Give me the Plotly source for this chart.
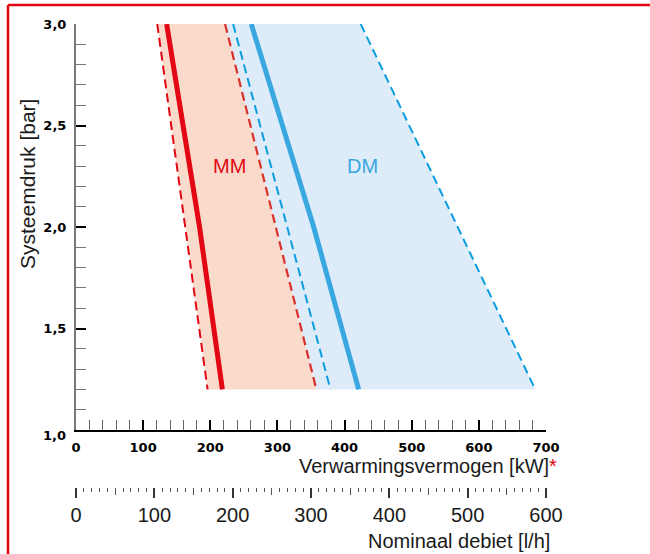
import plotly.graph_objects as go

# ---- data ----
p_range = [3.0, 1.2]            # system pressure [bar] (ends of band lines)
p_nom = [3.0, 2.0, 1.2]         # pressure points for nominal lines
mm_min = [121, 196]
mm_nom = [135, 184, 218]
mm_max = [222, 358]
dm_min = [234, 379]
dm_nom = [261, 354, 421]
dm_max = [424, 684]

y_ticks = [1.0, 1.5, 2.0, 2.5, 3.0]
y_ticktext = ["", "1,5", "2,0", "2,5", "3,0"]
x_ticks = [0, 100, 200, 300, 400, 500, 600, 700]
flow_ticks = [0, 100, 200, 300, 400, 500, 600]
flow_mid_ticks = [50, 150, 250, 350, 450, 550]

RED = "#e30613"
RED2 = "#d9302c"
BLUE = "#3aa8e0"
BLUE_D = "#0a9ee0"
MM_FILL = "#f9dacb"
DM_FILL = "#deebf8"

# pixel helpers for paper coordinates
L, R, T, B = 70, 550, 24, 500
def px(x):
    return (x - L) / (R - L)
def py(y):
    return (B - y) / (B - T)

fig = go.Figure()

# fills
fig.add_trace(go.Scatter(x=mm_max + dm_max[::-1], y=p_range + p_range[::-1],
                         fill="toself", fillcolor=DM_FILL, line=dict(width=0),
                         mode="lines", hoverinfo="skip", showlegend=False))
fig.add_trace(go.Scatter(x=mm_min + mm_max[::-1], y=p_range + p_range[::-1],
                         fill="toself", fillcolor=MM_FILL, line=dict(width=0),
                         mode="lines", hoverinfo="skip", showlegend=False))

# lines
fig.add_trace(go.Scatter(x=mm_min, y=p_range, mode="lines",
                         line=dict(color=RED, width=2, dash="9px,5px"), showlegend=False))
fig.add_trace(go.Scatter(x=mm_max, y=p_range, mode="lines",
                         line=dict(color=RED2, width=2.2, dash="9px,5px"), showlegend=False))
fig.add_trace(go.Scatter(x=dm_min, y=p_range, mode="lines",
                         line=dict(color=BLUE_D, width=2, dash="9px,5px"), showlegend=False))
fig.add_trace(go.Scatter(x=dm_max, y=p_range, mode="lines",
                         line=dict(color=BLUE_D, width=2, dash="9px,5px"), showlegend=False))
fig.add_trace(go.Scatter(x=mm_nom, y=p_nom, mode="lines",
                         line=dict(color=RED, width=5), showlegend=False))
fig.add_trace(go.Scatter(x=dm_nom, y=p_nom, mode="lines",
                         line=dict(color=BLUE, width=5), showlegend=False))

# dummy traces so secondary axes are drawn
fig.add_trace(go.Scatter(x=[0, 600], y=[1, 1], xaxis="x2", yaxis="y", mode="markers",
                         marker=dict(opacity=0), hoverinfo="skip", showlegend=False))
fig.add_trace(go.Scatter(x=[0, 600], y=[1, 1], xaxis="x3", yaxis="y", mode="markers",
                         marker=dict(opacity=0), hoverinfo="skip", showlegend=False))

TICKFONT_B = dict(family="DejaVu Sans", size=13, color="black", weight="bold")
LABFONT = dict(family="Liberation Sans, Arial", size=20, color="#1a1a1a")

fig.update_layout(
    width=650, height=554,
    margin=dict(l=L, r=650 - R, t=T, b=554 - B, autoexpand=False),
    plot_bgcolor="white", paper_bgcolor="white",
    separators=",.",
    xaxis=dict(domain=[px(76), px(546)], range=[0, 700], tickvals=x_ticks,
               ticks="inside", ticklen=10, tickwidth=1.5, tickcolor="black",
               showline=True, linecolor="black", linewidth=2,
               showgrid=False, zeroline=False, tickfont=TICKFONT_B, automargin=False,
               minor=dict(dtick=20, ticks="inside", ticklen=10, tickcolor="#666", tickwidth=1),
               anchor="y", ticklabelstandoff=4),
    yaxis=dict(domain=[py(430), 1], range=[1, 3], tickvals=y_ticks, ticktext=y_ticktext,
               ticks="inside", ticklen=10, tickwidth=2, tickcolor="black",
               showline=True, linecolor="#777", linewidth=2, automargin=False,
               showgrid=False, zeroline=False, tickfont=TICKFONT_B,
               minor=dict(dtick=0.1, ticks="inside", ticklen=10, tickcolor="#777", tickwidth=1.2),
               anchor="x", ticklabelstandoff=5),
    xaxis2=dict(overlaying="x", anchor="free", position=py(487), side="bottom",
                domain=[px(74), px(545.3)], range=[0, 600], tickvals=flow_ticks,
                ticks="outside", ticklen=10, tickwidth=1.5, tickcolor="#333",
                showline=False, showgrid=False, zeroline=False, automargin=False,
                tickfont=LABFONT,
                minor=dict(dtick=10, ticks="outside", ticklen=4, tickcolor="#555", tickwidth=1)),
    xaxis3=dict(overlaying="x", anchor="free", position=py(487), side="bottom",
                domain=[px(74), px(545.3)], range=[0, 600], tickvals=flow_mid_ticks,
                ticks="outside", ticklen=7, tickwidth=1.2, tickcolor="#555", automargin=False,
                showline=False, showgrid=False, zeroline=False, showticklabels=False),
)

ann = [
    dict(text="MM", x=228, y=2.30, xref="x", yref="y", showarrow=False,
         font=dict(family="Liberation Sans, Arial", size=20, color=RED)),
    dict(text="DM", x=427, y=2.30, xref="x", yref="y", showarrow=False,
         font=dict(family="Liberation Sans, Arial", size=20, color=BLUE)),
    dict(text="1,0", x=px(68), y=py(435), xref="paper", yref="paper", xanchor="right",
         yanchor="middle", showarrow=False, font=TICKFONT_B),
    dict(text="Systeemdruk [bar]", x=px(27), y=py(184), xref="paper", yref="paper",
         textangle=-90, showarrow=False, xanchor="center", yanchor="middle",
         font=dict(family="Liberation Sans, Arial", size=21, color="#1a1a1a")),
    dict(text="Verwarmingsvermogen [kW]<span style='color:#e30613'>*</span>",
         x=px(559), y=py(466), xref="paper", yref="paper", xanchor="right", yanchor="middle",
         showarrow=False, font=LABFONT),
    dict(text="Nominaal debiet [l/h]", x=px(552), y=py(541), xref="paper", yref="paper",
         xanchor="right", yanchor="middle", showarrow=False, font=LABFONT),
]
fig.update_layout(annotations=ann)

# red frame (top and left edges)
fig.add_shape(type="line", xref="paper", yref="paper", x0=px(8), x1=px(652), y0=py(5), y1=py(5),
              line=dict(color=RED, width=2.5))
fig.add_shape(type="line", xref="paper", yref="paper", x0=px(8), x1=px(8), y0=py(5), y1=py(560),
              line=dict(color=RED, width=2.5))

fig.write_html("out.html", config={"displayModeBar": False},
               post_script="document.body.style.margin='0';document.body.style.overflow='hidden';")
